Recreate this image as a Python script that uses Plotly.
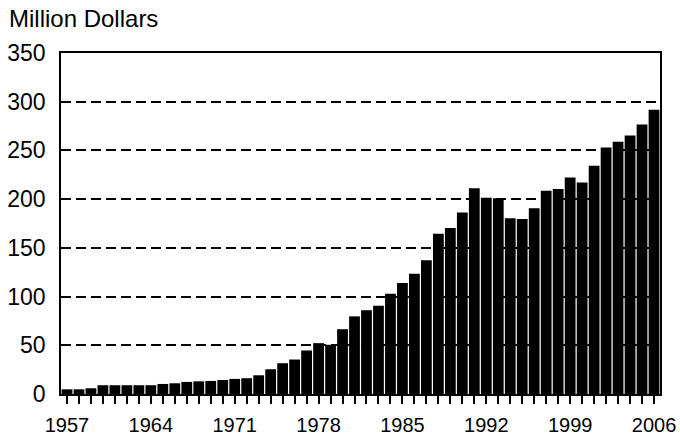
import plotly.graph_objects as go

years = list(range(1957, 2007))
values = [4.8, 4.8, 5.9, 9, 9, 9, 9, 9, 10.3, 11,
          12.4, 13, 13.4, 14.4, 15.5, 16.2, 19.2, 25.4, 31.6, 35.4,
          44.7, 52.2, 50.5, 66.5, 79.7, 86, 90.7, 102.8, 114, 123.4,
          137.4, 164.6, 170.4, 186.3, 211.3, 201.4, 201, 180.4, 179.7, 190.7,
          208.6, 210.3, 222.3, 217.2, 234.4, 252.9, 258.8, 265.3, 276.6, 291.8]
tick_years = [1957, 1964, 1971, 1978, 1985, 1992, 1999, 2006]
y_ticks = [0, 50, 100, 150, 200, 250, 300, 350]

fig = go.Figure(go.Bar(x=years, y=values, marker=dict(color="black", line=dict(width=0))))

fam = "Liberation Sans, Arial, sans-serif"
fig.update_layout(
    width=680, height=437,
    margin=dict(l=61, r=20, t=53, b=43, autoexpand=False),
    plot_bgcolor="white", paper_bgcolor="white",
    bargap=0.1, showlegend=False,
    font=dict(family=fam, size=23, color="black"),
    annotations=[dict(text="Million Dollars", xref="paper", yref="paper", x=-0.09, y=1.101,
                      xanchor="left", yanchor="middle", showarrow=False,
                      font=dict(family=fam, size=24, color="black"))],
)
fig.update_xaxes(range=[1956.5, 2006.5], tickvals=tick_years, ticks="outside", ticklen=8,
                 tickcolor="black", tickwidth=1.5, showline=True, linecolor="black", linewidth=1.5,
                 mirror=True, showgrid=False, zeroline=False, automargin=False,
                 minor=dict(ticks="outside", dtick=1, tick0=1957, ticklen=8, tickcolor="black", tickwidth=1.5, showgrid=False),
                 tickfont=dict(size=20), ticklabelstandoff=4)
fig.update_yaxes(range=[0, 350], tickvals=y_ticks, ticks="", showline=True, linecolor="black", linewidth=1.5,
                 mirror=True, showgrid=True, gridcolor="black", gridwidth=1.5, griddash="10px,5px",
                 zeroline=False, ticklabelstandoff=9, automargin=False, tickfont=dict(size=23))

fig.write_html("out.html", config={"displayModeBar": False},
               post_script="document.body.style.margin='0';")
